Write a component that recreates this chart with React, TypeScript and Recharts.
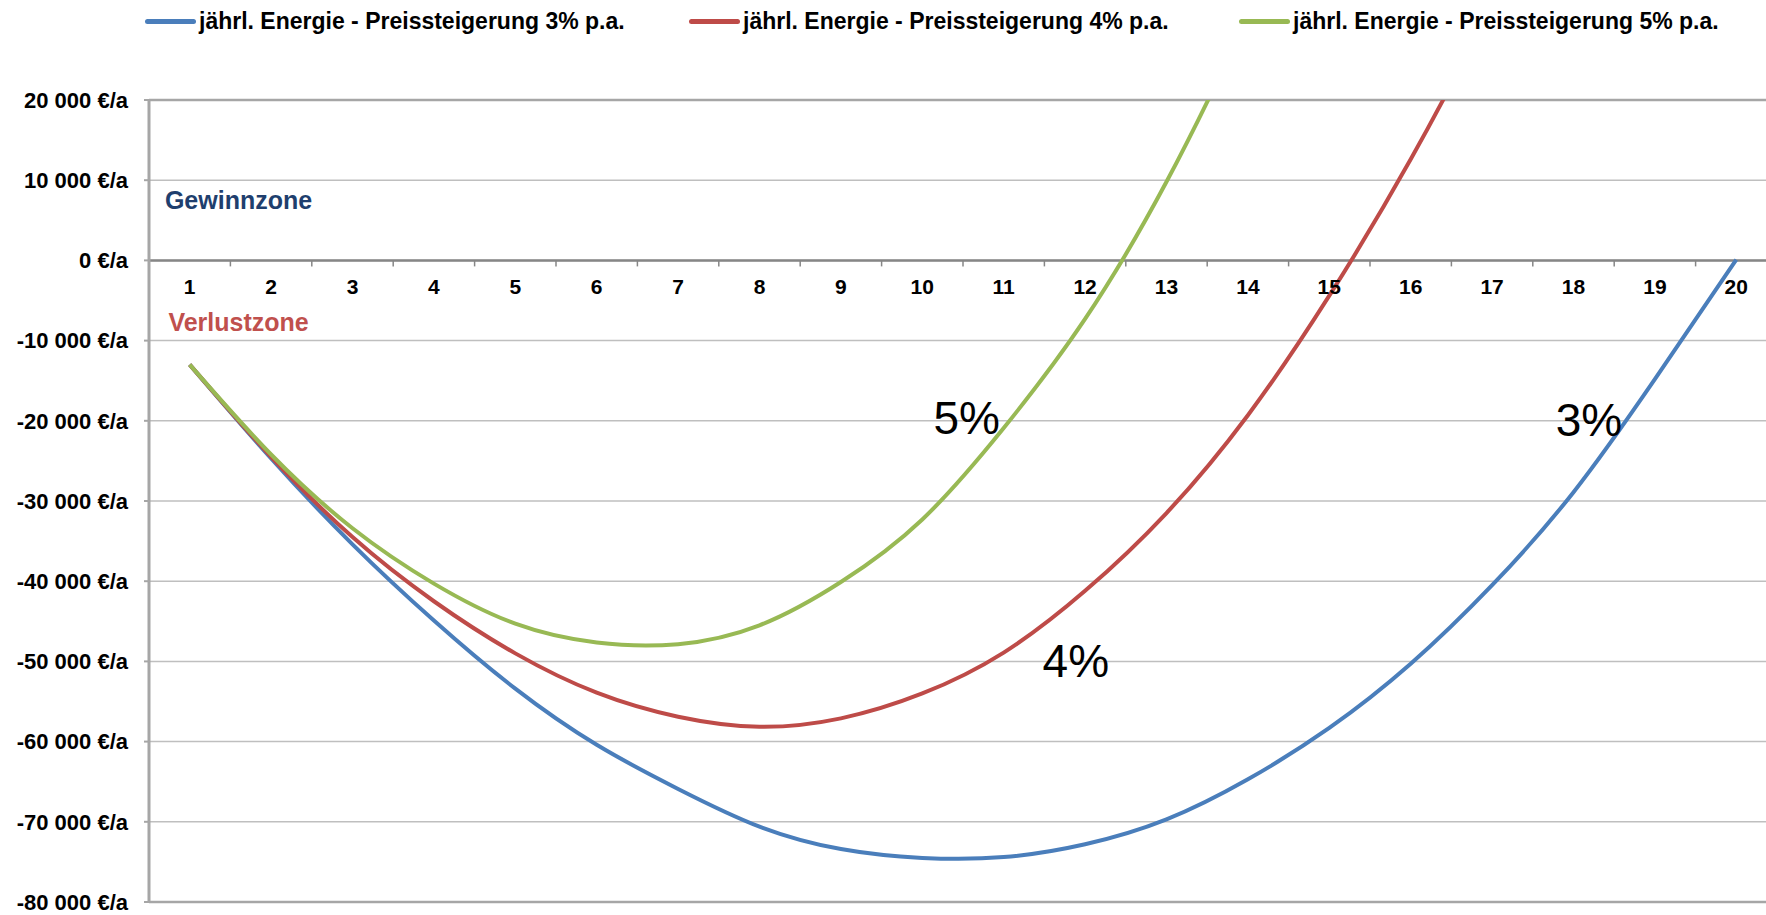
import React from 'react';
import {
  LineChart,
  Line,
  XAxis,
  YAxis,
  CartesianGrid,
  Legend,
  ReferenceLine,
  ReferenceDot,
  Label,
} from 'recharts';

const FONT = '"Liberation Sans", Arial, sans-serif';

// years of operation
const years = [1, 2, 3, 4, 5, 6, 7, 8, 9, 10, 11, 12, 13, 14, 15, 16, 17, 18, 19, 20];

// cumulative result in €/a for each energy price increase
const growth3 = [-13000, -24700, -35400, -44900, -53400, -60400, -65900, -70600, -73400, -74500,
  -74400, -72800, -69700, -64700, -58300, -50300, -40500, -28900, -14800, 100];
const growth4 = [-13000, -24500, -34500, -42500, -49000, -53900, -56900, -58150, -57100, -54000,
  -48900, -41200, -31500, -19300, -4400, 12600, 32000, 54000, 78000, 104000];
const growth5 = [-13000, -24200, -33400, -40300, -45300, -47650, -47850, -45500, -40100, -32300,
  -20900, -7300, 9800, 30500, 54000, 80000, 108000, 139000, 172000, 208000];

const seriesNames = [
  'jährl. Energie - Preissteigerung 3% p.a.',
  'jährl. Energie - Preissteigerung 4% p.a.',
  'jährl. Energie - Preissteigerung 5% p.a.',
];
const seriesColors = ['#4A7EBB', '#BE4B48', '#98B954'];

const yTicks = [20000, 10000, 0, -10000, -20000, -30000, -40000, -50000, -60000, -70000, -80000];

const data = years.map((year, i) => ({
  year,
  p3: growth3[i],
  p4: growth4[i],
  p5: growth5[i],
}));

function formatEuro(v: number) {
  const s = Math.abs(v).toString().replace(/\B(?=(\d{3})+(?!\d))/g, ' ');
  return (v < 0 ? '-' : '') + s + ' €/a';
}

function LegendContent({ payload }: any) {
  const widths = [544, 550, 'auto'];
  return (
    <div
      style={{
        display: 'flex',
        alignItems: 'center',
        height: 42,
        paddingLeft: 145,
        fontFamily: FONT,
        fontWeight: 'bold',
        fontSize: 23,
        color: '#000',
      }}
    >
      {(payload || []).map((entry: any, i: number) => (
        <div key={i} style={{ display: 'flex', alignItems: 'center', width: widths[i], flex: 'none' }}>
          <span
            style={{
              display: 'inline-block',
              width: 51,
              height: 5,
              borderRadius: 3,
              background: entry.color,
              marginRight: 3,
            }}
          />
          <span style={{ whiteSpace: 'nowrap' }}>{entry.value}</span>
        </div>
      ))}
    </div>
  );
}

// category label under the zero line
const yearLabel = (year: number) => (p: any) => (
  <text
    x={p.cx}
    y={p.cy + 34}
    textAnchor="middle"
    fontFamily={FONT}
    fontWeight="bold"
    fontSize={21}
    fill="#000"
  >
    {year}
  </text>
);

// small tick between categories on the zero line
const yearTick = (p: any) => (
  <line x1={p.cx} y1={p.cy} x2={p.cx} y2={p.cy + 6} stroke="#868686" strokeWidth={1.5} />
);

export default function App() {
  return (
    <div
      style={{
        position: 'absolute',
        left: 0,
        top: 0,
        width: 1766,
        height: 915,
        overflow: 'hidden',
        background: '#fff',
      }}
    >
      <LineChart
        width={1790}
        height={915}
        data={data}
        margin={{ top: 58, right: 13, bottom: 13, left: 0 }}
      >
        <CartesianGrid vertical={false} stroke="#BFBFBF" strokeWidth={1.5} />
        <XAxis type="number" dataKey="year" domain={[0.5, 20.5]} hide />
        <YAxis
          domain={[-80000, 20000]}
          ticks={yTicks}
          interval={0}
          allowDataOverflow
          tickFormatter={formatEuro}
          width={149}
          tickSize={5}
          tickMargin={16}
          axisLine={{ stroke: '#A6A6A6', strokeWidth: 3 }}
          tickLine={{ stroke: '#A6A6A6', strokeWidth: 2 }}
          tick={{ fill: '#000', fontSize: 22, fontWeight: 'bold', fontFamily: FONT }}
        />
        <Legend verticalAlign="top" align="left" content={<LegendContent />} wrapperStyle={{ top: 0, left: 0, width: 1766 }} />
        <ReferenceLine y={20000} stroke="#A6A6A6" strokeWidth={2.5} />
        <ReferenceLine y={-80000} stroke="#A6A6A6" strokeWidth={2.5} />
        <ReferenceLine y={0} stroke="#868686" strokeWidth={2.5} />
        {years.slice(0, -1).map((y) => (
          <ReferenceDot key={'t' + y} x={y + 0.5} y={0} r={1} shape={yearTick} />
        ))}
        {years.map((y) => (
          <ReferenceDot key={'l' + y} x={y} y={0} r={1} shape={yearLabel(y)} />
        ))}
        <ReferenceDot x={1.6} y={7500} r={0} fill="none" stroke="none">
          <Label value="Gewinnzone" position="center" fontSize={25} fontWeight="bold" fontFamily={FONT} fill="#1F3F6E" />
        </ReferenceDot>
        <ReferenceDot x={1.6} y={-7650} r={0} fill="none" stroke="none">
          <Label value="Verlustzone" position="center" fontSize={25} fontWeight="bold" fontFamily={FONT} fill="#C0504D" />
        </ReferenceDot>
        <Line type="natural" dataKey="p3" name={seriesNames[0]} stroke={seriesColors[0]} strokeWidth={4} dot={false} activeDot={false} isAnimationActive={false} />
        <Line type="natural" dataKey="p4" name={seriesNames[1]} stroke={seriesColors[1]} strokeWidth={4} dot={false} activeDot={false} isAnimationActive={false} />
        <Line type="natural" dataKey="p5" name={seriesNames[2]} stroke={seriesColors[2]} strokeWidth={4} dot={false} activeDot={false} isAnimationActive={false} />
        <ReferenceDot x={10.545} y={-19600} r={0} fill="none" stroke="none">
          <Label value="5%" position="center" fontSize={46} fontFamily={FONT} fill="#000" />
        </ReferenceDot>
        <ReferenceDot x={11.886} y={-49900} r={0} fill="none" stroke="none">
          <Label value="4%" position="center" fontSize={46} fontFamily={FONT} fill="#000" />
        </ReferenceDot>
        <ReferenceDot x={18.19} y={-19900} r={0} fill="none" stroke="none">
          <Label value="3%" position="center" fontSize={46} fontFamily={FONT} fill="#000" />
        </ReferenceDot>
      </LineChart>
    </div>
  );
}
